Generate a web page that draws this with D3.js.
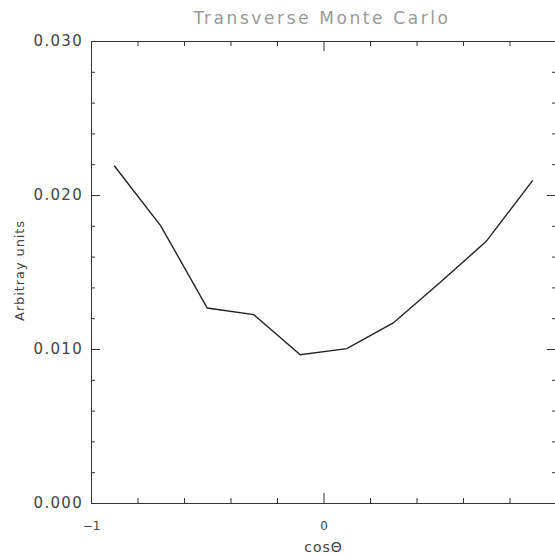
<!DOCTYPE html>
<html>
<head>
<meta charset="utf-8">
<script src="https://cdn.jsdelivr.net/npm/d3@7"></script>
<style>
  body { margin: 0; background: #fff; overflow: hidden; }
  text { font-family: "DejaVu Sans", sans-serif; }
</style>
</head>
<body>
<div id="chart"></div>
<script>
// datos
const cosTheta = [-0.9, -0.7, -0.5, -0.3, -0.1, 0.1, 0.3, 0.5, 0.7, 0.9]
const counts = [0.0219, 0.0180, 0.01266, 0.01223, 0.00963, 0.01002, 0.01169, 0.0143, 0.01699, 0.02095]

const yMajor = [0, 0.01, 0.02, 0.03]
const yLabels = ["0.000", "0.010", "0.020", "0.030"]
const xMajor = [-1, 0, 1]
const xLabels = ["\u22121", "0", ""]

const width = 555
const height = 554
const margin = { top: 41, bottom: 51, left: 91, right: -1 }

const svg = d3.select("div#chart").append("svg").attr("width", width).attr("height", height)

const x = d3.scaleLinear().domain([-1, 1]).range([margin.left, width - margin.right])
const y = d3.scaleLinear().domain([0, 0.03]).range([height - margin.bottom, margin.top])

const xMinor = d3.range(-1, 1.0001, 0.2).map(d => +d.toFixed(1)).filter(d => !xMajor.includes(d))
const yMinor = d3.range(0, 0.03001, 0.002).map(d => +d.toFixed(3)).filter(d => !yMajor.some(m => Math.abs(m - d) < 1e-9))

const axisColor = "#333"

function drawAxis(axis, transform) {
    const g = svg.append("g").attr("transform", transform).call(axis)
    g.select(".domain").attr("stroke", axisColor)
    g.selectAll(".tick line").attr("stroke", axisColor)
    g.selectAll("text").attr("fill", "#444").style("font-family", "DejaVu Sans")
    return g
}

// ejes: abajo, arriba, izquierda, derecha (ticks hacia dentro)
const bottom = drawAxis(d3.axisBottom(x).tickValues(xMajor).tickSize(-10).tickPadding(18)
    .tickFormat((d, i) => xLabels[i]), `translate(0,${y(0)})`)
bottom.selectAll("text").style("font-size", "12px")
drawAxis(d3.axisBottom(x).tickValues(xMinor).tickSize(-5).tickFormat(""), `translate(0,${y(0)})`)

drawAxis(d3.axisTop(x).tickValues(xMajor).tickSize(-10).tickFormat(""), `translate(0,${y(0.03)})`)
drawAxis(d3.axisTop(x).tickValues(xMinor).tickSize(-5).tickFormat(""), `translate(0,${y(0.03)})`)

const left = drawAxis(d3.axisLeft(y).tickValues(yMajor).tickSize(-9).tickPadding(8)
    .tickFormat((d, i) => yLabels[i]), `translate(${x(-1)},0)`)
left.selectAll("text").style("font-size", "15px").style("letter-spacing", "1.3px")
drawAxis(d3.axisLeft(y).tickValues(yMinor).tickSize(-4).tickFormat(""), `translate(${x(-1)},0)`)

drawAxis(d3.axisRight(y).tickValues(yMajor).tickSize(-9).tickFormat(""), `translate(${x(1)},0)`)
drawAxis(d3.axisRight(y).tickValues(yMinor).tickSize(-4).tickFormat(""), `translate(${x(1)},0)`)

// linea
const line = d3.line().x((d, i) => x(cosTheta[i])).y(d => y(d))
svg.append("path")
    .datum(counts)
    .attr("d", line)
    .attr("fill", "none")
    .attr("stroke", "#222")
    .attr("stroke-width", 1.4)

// textos
svg.append("text")
    .attr("x", 322).attr("y", 24)
    .attr("text-anchor", "middle")
    .style("font-size", "17px")
    .style("letter-spacing", "2.6px")
    .attr("fill", "#999")
    .text("Transverse Monte Carlo")

svg.append("text")
    .attr("x", x(0)).attr("y", 552)
    .attr("text-anchor", "middle")
    .style("font-size", "14px")
    .style("letter-spacing", "1px")
    .attr("fill", "#444")
    .text("cos\u0398")

svg.append("text")
    .attr("transform", `translate(24,${y(0.0151)}) rotate(-90)`)
    .attr("text-anchor", "middle")
    .style("font-size", "13px")
    .style("letter-spacing", "0.9px")
    .attr("fill", "#444")
    .text("Arbitray units")
</script>
</body>
</html>
